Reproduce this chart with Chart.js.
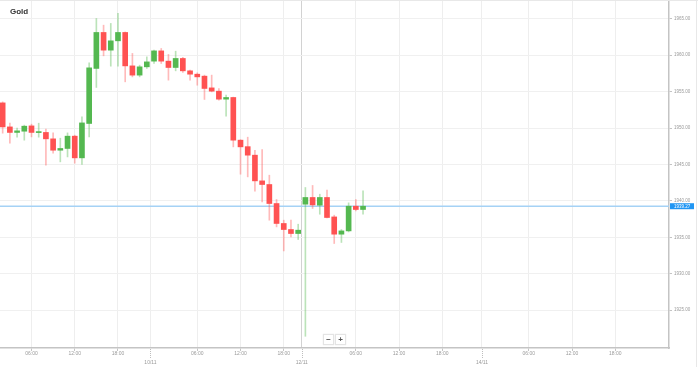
<!DOCTYPE html>
<html>
<head>
<meta charset="utf-8">
<script src="https://cdn.jsdelivr.net/npm/chart.js@4.4.1/dist/chart.umd.min.js"></script>
<style>
  html, body { margin: 0; padding: 0; background: #fff; }
  #wrap { position: relative; width: 698px; height: 367px; overflow: hidden; }
  #chart { position: absolute; left: 0; top: 0; }
  #title { position: absolute; left: 10px; top: 7px; font: bold 8px 'Liberation Sans', Arial, sans-serif; color: #333; }
  .topline { position: absolute; left: 0; top: 0; width: 698px; height: 1px; background: #e8e8e8; }
  .rightline { position: absolute; left: 696px; top: 0; width: 1px; height: 367px; background: #e8e8e8; }
  .zbtn { position: absolute; top: 334px; width: 9px; height: 9px; background: #fff; border: 1px solid #e4e4e4;
          box-shadow: 0 0 1px rgba(0,0,0,0.12); font: bold 8px 'Liberation Sans', Arial, sans-serif; color: #555;
          text-align: center; line-height: 9px; }
</style>
</head>
<body>
<div id="wrap">
  <canvas id="chart" width="698" height="367"></canvas>
  <div class="topline"></div>
  <div class="rightline"></div>
  <div id="title">Gold</div>
  <div class="zbtn" style="left:323px">&minus;</div>
  <div class="zbtn" style="left:335px">+</div>
</div>
<script>
// hourly candles
const opens = [1953.46, 1950.16, 1949.40, 1949.57, 1950.30, 1949.38, 1949.40, 1948.52, 1946.96, 1947.20,
  1948.89, 1945.91, 1950.63, 1958.19, 1963.13, 1960.70, 1961.98, 1963.13, 1958.54, 1957.27,
  1958.41, 1959.19, 1960.60, 1959.19, 1958.32, 1959.56, 1957.86, 1957.40, 1957.13, 1955.52,
  1955.07, 1953.97, 1954.20, 1948.34, 1947.45, 1946.28, 1942.75, 1942.25, 1939.64, 1936.90,
  1936.07, 1935.52, 1939.55, 1940.47, 1939.41, 1940.47, 1937.80, 1935.43, 1935.88, 1939.27, 1938.82];
const closes = [1950.16, 1949.40, 1949.62, 1950.26, 1949.40, 1949.42, 1948.52, 1946.96, 1947.20, 1948.89,
  1945.91, 1950.71, 1958.27, 1963.13, 1960.70, 1961.98, 1963.13, 1958.54, 1957.27, 1958.41,
  1959.09, 1960.60, 1959.19, 1958.32, 1959.56, 1957.86, 1957.40, 1957.03, 1955.44, 1955.07,
  1953.97, 1954.20, 1948.34, 1947.42, 1946.28, 1942.75, 1942.25, 1939.64, 1936.90, 1936.07,
  1935.52, 1935.98, 1940.47, 1939.45, 1940.47, 1937.72, 1935.43, 1935.88, 1939.27, 1938.82, 1939.27];
const highs = [1953.60, 1950.67, 1949.99, 1950.40, 1950.54, 1950.67, 1949.85, 1949.34, 1948.61, 1949.34,
  1949.02, 1951.54, 1958.96, 1965.05, 1964.13, 1964.37, 1965.74, 1963.20, 1960.25, 1958.64,
  1959.78, 1960.70, 1960.93, 1960.11, 1960.56, 1959.70, 1957.95, 1957.58, 1957.27, 1957.27,
  1955.44, 1954.52, 1954.25, 1948.40, 1948.75, 1946.96, 1947.06, 1943.53, 1940.19, 1937.35,
  1937.35, 1936.80, 1941.84, 1942.12, 1940.92, 1941.47, 1938.04, 1936.07, 1939.73, 1940.19, 1941.37];
const lows = [1949.30, 1947.93, 1948.75, 1948.34, 1948.79, 1948.75, 1944.90, 1946.55, 1945.36, 1946.04,
  1945.18, 1945.00, 1948.79, 1955.58, 1959.92, 1958.50, 1958.50, 1956.35, 1957.03, 1957.03,
  1958.19, 1958.87, 1958.87, 1956.58, 1957.86, 1957.64, 1956.58, 1955.89, 1953.93, 1954.97,
  1953.83, 1951.63, 1947.42, 1943.67, 1943.30, 1941.33, 1939.86, 1937.35, 1936.43, 1933.13,
  1935.05, 1934.70, 1921.41, 1938.96, 1938.17, 1937.65, 1934.15, 1934.29, 1935.74, 1938.63, 1938.17];

const lastPrice = 1939.27;

// x ticks in candle-slot units (halves are day boundaries)
const xTickPos = [4, 10, 16, 20.5, 27, 33, 39, 41.5, 49, 55, 61, 66.5, 73, 79, 85];
const xTickLabels = ['06:00', '12:00', '18:00', '10/11', '06:00', '12:00', '18:00', '12/11',
  '06:00', '12:00', '18:00', '14/11', '06:00', '12:00', '18:00'];
const weekendBreak = 41.5;
const yTickVals = [1925, 1930, 1935, 1940, 1945, 1950, 1955, 1960, 1965];

const RED = 'rgb(255,82,82)';
const GREEN = 'rgb(84,184,80)';
const RED_W = 'rgba(255,82,82,0.4)';
const GREEN_W = 'rgba(84,184,80,0.4)';
const FONT = "'Liberation Sans', Arial, sans-serif";

const isDate = v => !Number.isInteger(v);
const up = opens.map((o, i) => closes[i] >= o);

const overlay = {
  id: 'overlay',
  beforeDatasetsDraw(chart) {
    const { ctx, chartArea, scales } = chart;
    const y = scales.y.getPixelForValue(lastPrice);
    ctx.save();
    ctx.strokeStyle = '#a5d2f5';
    ctx.lineWidth = 1.5;
    ctx.beginPath();
    ctx.moveTo(chartArea.left, y);
    ctx.lineTo(chartArea.right, y);
    ctx.stroke();
    ctx.restore();
  },
  afterDraw(chart) {
    const { ctx, chartArea, scales } = chart;
    ctx.save();
    // dotted day ticks under the axis
    ctx.strokeStyle = '#bdbdbd';
    ctx.lineWidth = 1;
    ctx.setLineDash([1, 1]);
    xTickPos.filter(isDate).forEach(v => {
      const x = Math.round(scales.x.getPixelForValue(v)) + 0.5;
      ctx.beginPath();
      ctx.moveTo(x, chartArea.bottom + 1);
      ctx.lineTo(x, chartArea.bottom + 10);
      ctx.stroke();
    });
    ctx.setLineDash([]);
    // last price tag
    const y = scales.y.getPixelForValue(lastPrice);
    ctx.fillStyle = '#2196f3';
    ctx.fillRect(chartArea.right + 1, y - 3, 24, 6);
    ctx.fillStyle = '#fff';
    ctx.font = '4.5px ' + FONT;
    ctx.textBaseline = 'middle';
    ctx.fillText(lastPrice.toFixed(2), chartArea.right + 5, y + 0.3);
    ctx.restore();
  }
};

new Chart(document.getElementById('chart'), {
  type: 'bar',
  data: {
    datasets: [{
      label: 'wick',
      data: opens.map((_, i) => ({ x: i, y: [lows[i], highs[i]] })),
      backgroundColor: up.map(u => u ? GREEN_W : RED_W),
      barThickness: 1,
      grouped: false,
      order: 2
    }, {
      label: 'body',
      data: opens.map((o, i) => ({ x: i, y: [Math.min(o, closes[i]), Math.max(o, closes[i])] })),
      backgroundColor: up.map(u => u ? GREEN : RED),
      barThickness: 5,
      minBarLength: 1,
      grouped: false,
      order: 1
    }]
  },
  options: {
    responsive: false,
    animation: false,
    devicePixelRatio: 1,
    layout: { padding: { top: 1, left: 0, right: 0, bottom: 0 } },
    plugins: { legend: { display: false }, tooltip: { enabled: false } },
    scales: {
      x: {
        type: 'linear',
        min: -0.37,
        max: 92.45,
        offset: false,
        afterBuildTicks: s => { s.ticks = xTickPos.map(v => ({ value: v })); },
        afterFit: s => { s.height = 19; s.paddingLeft = 0; s.paddingRight = 0; },
        ticks: {
          autoSkip: false,
          maxRotation: 0,
          padding: -2,
          color: '#9a9a9a',
          font: { size: 5, family: FONT, lineHeight: 1.8 },
          callback: (v, i) => isDate(v) ? ['', xTickLabels[i]] : xTickLabels[i]
        },
        grid: {
          offset: false,
          color: ctx => ctx.tick.value === weekendBreak ? '#d2d2d2' : '#eeeeee',
          tickColor: ctx => isDate(ctx.tick.value) ? 'rgba(0,0,0,0)' : '#c4c4c4',
          tickLength: 3
        },
        border: { color: '#c4c4c4', width: 1.5 }
      },
      y: {
        position: 'right',
        min: 1919.8,
        max: 1967.45,
        afterBuildTicks: s => { s.ticks = yTickVals.map(v => ({ value: v })); },
        afterFit: s => { s.width = 29; s.paddingTop = 0; s.paddingBottom = 0; },
        ticks: {
          padding: 2,
          color: '#9a9a9a',
          font: { size: 4.5, family: FONT },
          callback: v => v.toFixed(2)
        },
        grid: { color: '#f0f0f0', tickColor: '#c4c4c4', tickLength: 3 },
        border: { color: '#c4c4c4', width: 1.5 }
      }
    }
  },
  plugins: [overlay]
});
</script>
</body>
</html>
